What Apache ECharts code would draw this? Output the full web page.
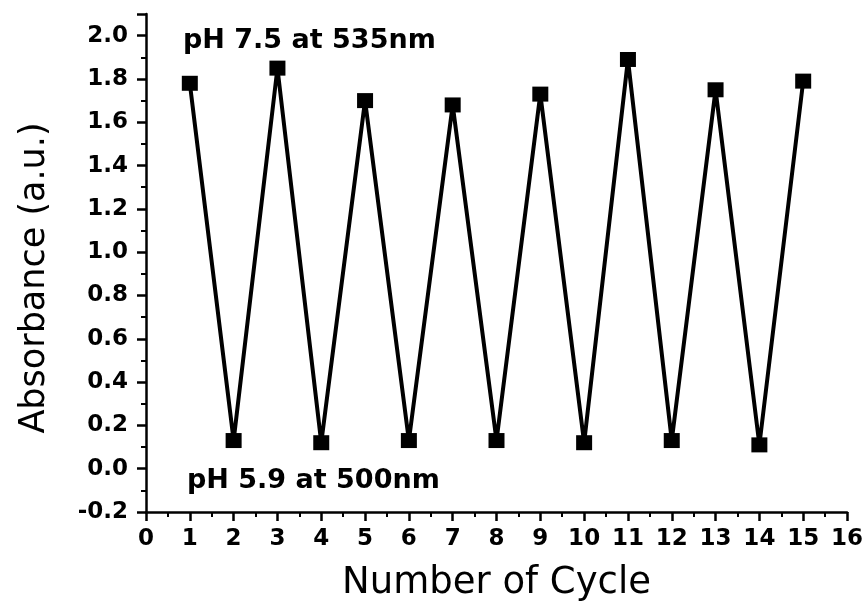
<!DOCTYPE html>
<html>
<head>
<meta charset="utf-8">
<script src="https://cdn.jsdelivr.net/npm/echarts@6/dist/echarts.min.js"></script>
<style>
  html, body { margin: 0; padding: 0; background: #fff; }
  #chart { width: 866px; height: 609px; }
</style>
</head>
<body>
<div id="chart"></div>
<script>
const cycles = [1, 2, 3, 4, 5, 6, 7, 8, 9, 10, 11, 12, 13, 14, 15];
const absorbance = [1.78, 0.13, 1.85, 0.12, 1.70, 0.13, 1.68, 0.13, 1.73, 0.12, 1.89, 0.13, 1.75, 0.11, 1.79];
const labelHigh = "pH 7.5 at 535nm";
const labelLow = "pH 5.9 at 500nm";

const chart = echarts.init(document.getElementById("chart"));
const font = "DejaVu Sans, Liberation Sans, Arial, sans-serif";

chart.setOption({
  animation: false,
  grid: { left: 146, right: 19, top: 14, bottom: 97, containLabel: false, outerBoundsMode: "none" },
  xAxis: {
    type: "value",
    min: 0, max: 16, interval: 1,
    name: "Number of Cycle",
    nameLocation: "middle",
    nameGap: 53,
    nameTextStyle: { fontFamily: font, fontSize: 37, color: "#000" },
    splitLine: { show: false },
    axisLine: { onZero: false, lineStyle: { color: "#000", width: 2.5 } },
    axisTick: { length: 9, lineStyle: { color: "#000", width: 2.5 } },
    minorTick: { show: true, splitNumber: 2, length: 5, lineStyle: { color: "#000", width: 2 } },
    axisLabel: { fontFamily: font, fontSize: 23, fontWeight: "bold", color: "#000", margin: 16 }
  },
  yAxis: {
    type: "value",
    min: -0.2, max: 2.1, interval: 0.2,
    name: "Absorbance (a.u.)",
    nameLocation: "middle",
    nameGap: 94,
    nameTextStyle: { fontFamily: font, fontSize: 35, color: "#000", padding: [0, 30, 0, 0] },
    splitLine: { show: false },
    axisLine: { show: true, lineStyle: { color: "#000", width: 2.5 } },
    axisTick: { show: true, length: 9, lineStyle: { color: "#000", width: 2.5 } },
    minorTick: { show: true, splitNumber: 2, length: 5, lineStyle: { color: "#000", width: 2 } },
    axisLabel: {
      fontFamily: font, fontSize: 23, fontWeight: "bold", color: "#000", margin: 18,
      formatter: v => (Math.abs(v - 2.1) < 1e-6 ? "" : v.toFixed(1))
    }
  },
  series: [{
    type: "line",
    data: cycles.map((c, i) => [c, absorbance[i]]),
    symbol: "rect",
    symbolSize: [16, 15],
    lineStyle: { color: "#000", width: 4 },
    itemStyle: { color: "#000" }
  }],
  graphic: [
    { type: "text", left: 183, top: 27, style: { text: labelHigh, fontFamily: font, fontSize: 27, fontWeight: "bold", fill: "#000" } },
    { type: "text", left: 187, top: 467, style: { text: labelLow, fontFamily: font, fontSize: 27, fontWeight: "bold", fill: "#000" } }
  ]
});
</script>
</body>
</html>
